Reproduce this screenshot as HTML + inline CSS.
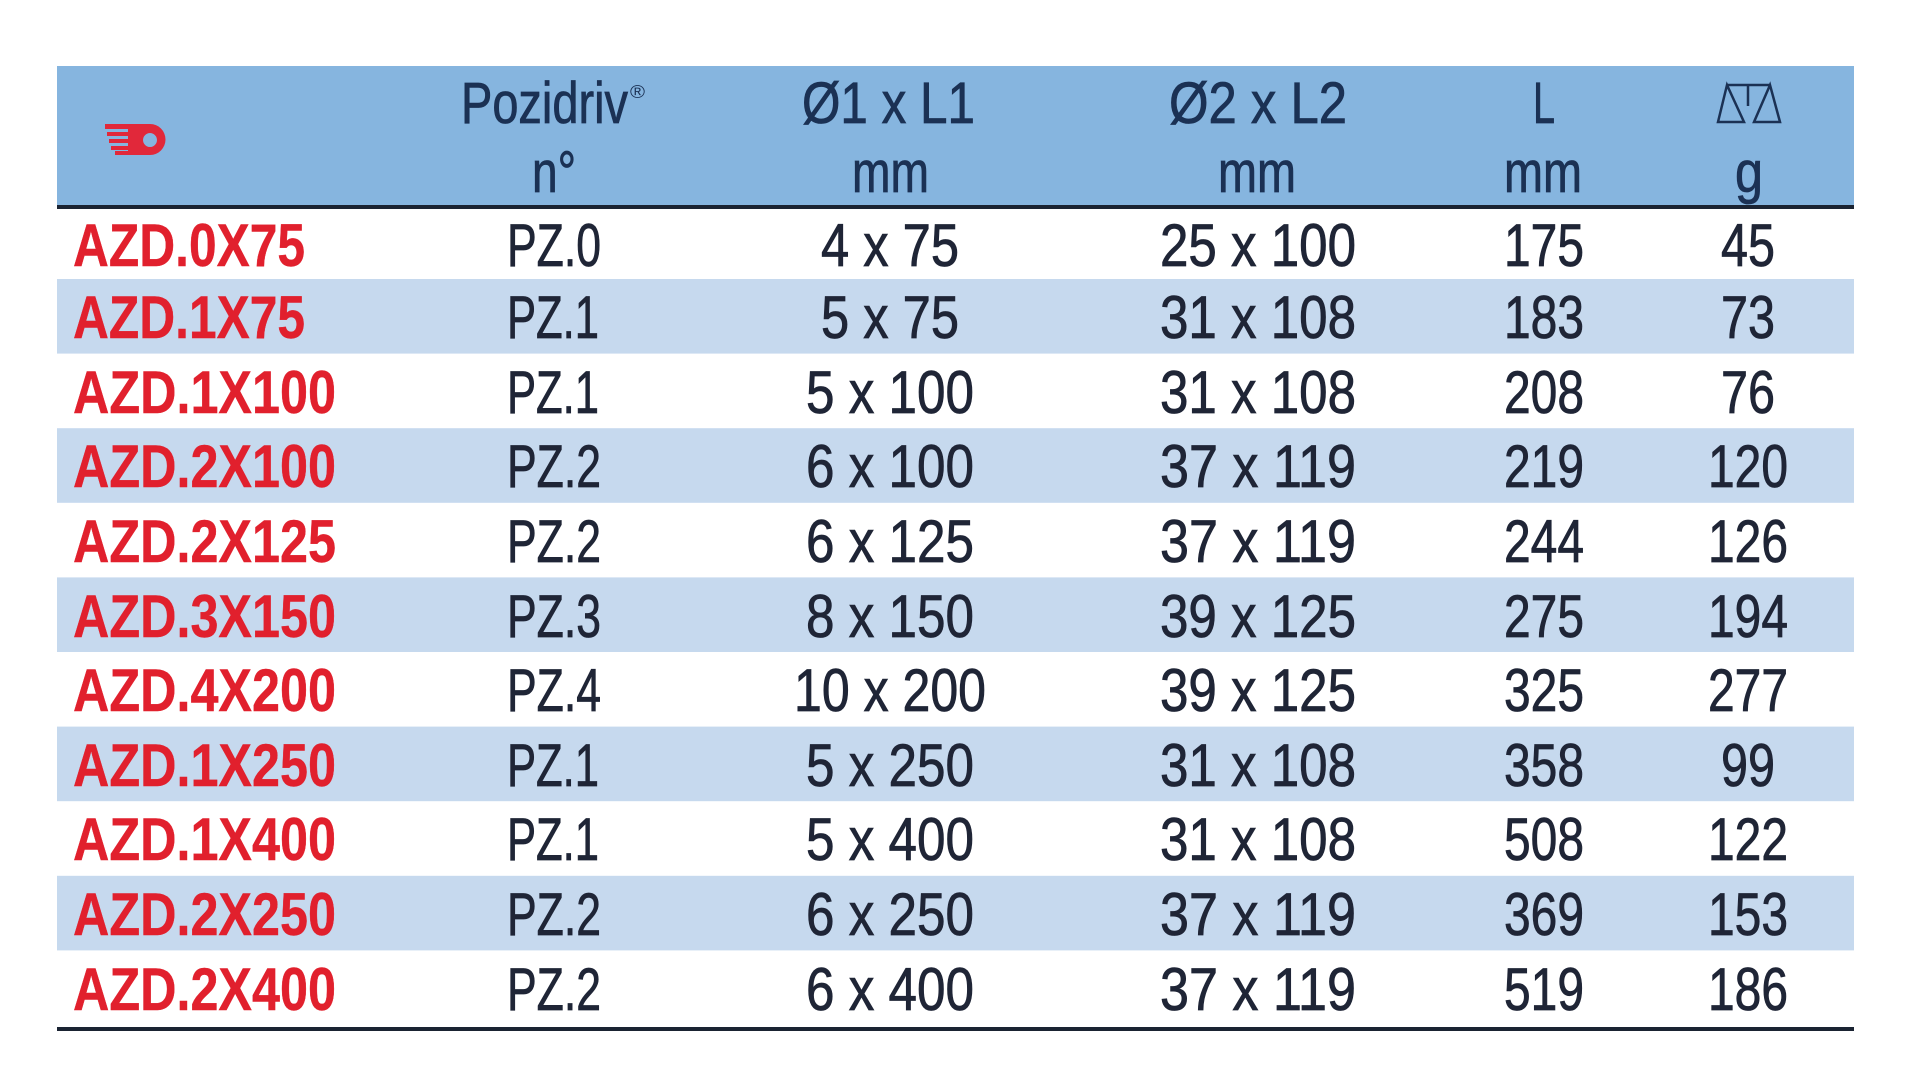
<!DOCTYPE html>
<html>
<head>
<meta charset="utf-8">
<style>
  html, body { margin: 0; padding: 0; background: #ffffff; }
  body { width: 1920px; height: 1090px; overflow: hidden; }
  svg { display: block; }
  .d { font-family: "Liberation Sans", "DejaVu Sans", sans-serif; font-size: 60px; fill: #1f2536; stroke: #1f2536; stroke-width: 0.8px; }
  .r { font-family: "Liberation Sans", "DejaVu Sans", sans-serif; font-size: 60px; font-weight: bold; fill: #e1202d; stroke: #e1202d; stroke-width: 0.4px; }
  .h { font-family: "Liberation Sans", "DejaVu Sans", sans-serif; font-size: 58px; fill: #1b3154; stroke: #1b3154; stroke-width: 0.8px; }
</style>
</head>
<body>
<svg width="1920" height="1090" viewBox="0 0 1920 1090" xmlns="http://www.w3.org/2000/svg">
  <rect x="0" y="0" width="1920" height="1090" fill="#ffffff"/>
  <!-- header -->
  <rect x="57" y="66" width="1797" height="140" fill="#86b5df"/>
  <rect x="57" y="205" width="1797" height="4" fill="#1a2332"/>
  <!-- stripes -->
  <rect x="57" y="279" width="1797" height="74.6" fill="#c6d9ee"/>
  <rect x="57" y="428.2" width="1797" height="74.6" fill="#c6d9ee"/>
  <rect x="57" y="577.4" width="1797" height="74.6" fill="#c6d9ee"/>
  <rect x="57" y="726.6" width="1797" height="74.6" fill="#c6d9ee"/>
  <rect x="57" y="875.8" width="1797" height="74.6" fill="#c6d9ee"/>
  <!-- bottom line -->
  <rect x="57" y="1027" width="1797" height="4" fill="#1a2332"/>

  <!-- header icon (red tool) -->
  <g fill="#e1283a">
    <path d="M128 124 H150 A15.5 15.5 0 0 1 150 155 H128 Z M150 133 A7 7 0 1 0 150.01 133 Z" fill-rule="evenodd"/>
    <rect x="105" y="124" width="28" height="5"/>
    <rect x="107" y="132" width="26" height="4"/>
    <rect x="109" y="139" width="24" height="4"/>
    <rect x="111" y="146" width="22" height="4"/>
    <rect x="115" y="151" width="18" height="4"/>
  </g>

  <!-- header texts -->
  <text class="h" x="461" y="123" textLength="167" lengthAdjust="spacingAndGlyphs">Pozidriv</text>
  <text class="h" x="630" y="98" style="font-size:18px;stroke-width:0" textLength="15" lengthAdjust="spacingAndGlyphs">®</text>
  <text class="h" x="532" y="192" textLength="44" lengthAdjust="spacingAndGlyphs">n°</text>

  <text class="h" x="802" y="123" textLength="173" lengthAdjust="spacingAndGlyphs">Ø1 x L1</text>
  <text class="h" x="852" y="192" textLength="77" lengthAdjust="spacingAndGlyphs">mm</text>

  <text class="h" x="1169" y="123" textLength="178" lengthAdjust="spacingAndGlyphs">Ø2 x L2</text>
  <text class="h" x="1218" y="192" textLength="78" lengthAdjust="spacingAndGlyphs">mm</text>

  <text class="h" x="1533" y="123" textLength="22" lengthAdjust="spacingAndGlyphs">L</text>
  <text class="h" x="1504" y="192" textLength="78" lengthAdjust="spacingAndGlyphs">mm</text>

  <!-- weight icon -->
  <g fill="none" stroke="#1b3154" stroke-width="2.5" stroke-linejoin="miter">
    <path d="M1718 122 L1727 85 L1744 122 Z"/>
    <path d="M1754 122 L1770 85 L1780 122 Z"/>
    <path d="M1727 85 H1770"/>
    <path d="M1748 85 V106"/>
  </g>
  <text class="h" x="1735" y="192" textLength="28" lengthAdjust="spacingAndGlyphs">g</text>

  <!-- row 1 -->
  <text class="r" x="73" y="266" textLength="232" lengthAdjust="spacingAndGlyphs">AZD.0X75</text>
  <text class="d" x="507" y="266" textLength="94" lengthAdjust="spacingAndGlyphs">PZ.0</text>
  <text class="d" x="821" y="266" textLength="138" lengthAdjust="spacingAndGlyphs">4 x 75</text>
  <text class="d" x="1160" y="266" textLength="196" lengthAdjust="spacingAndGlyphs">25 x 100</text>
  <text class="d" x="1504" y="266" textLength="80" lengthAdjust="spacingAndGlyphs">175</text>
  <text class="d" x="1721" y="266" textLength="54" lengthAdjust="spacingAndGlyphs">45</text>

  <!-- row 2 -->
  <text class="r" x="73" y="338" textLength="232" lengthAdjust="spacingAndGlyphs">AZD.1X75</text>
  <text class="d" x="507" y="338" textLength="92" lengthAdjust="spacingAndGlyphs">PZ.1</text>
  <text class="d" x="821" y="338" textLength="138" lengthAdjust="spacingAndGlyphs">5 x 75</text>
  <text class="d" x="1160" y="338" textLength="196" lengthAdjust="spacingAndGlyphs">31 x 108</text>
  <text class="d" x="1504" y="338" textLength="80" lengthAdjust="spacingAndGlyphs">183</text>
  <text class="d" x="1721" y="338" textLength="54" lengthAdjust="spacingAndGlyphs">73</text>

  <!-- row 3 -->
  <text class="r" x="73" y="413" textLength="263" lengthAdjust="spacingAndGlyphs">AZD.1X100</text>
  <text class="d" x="507" y="413" textLength="92" lengthAdjust="spacingAndGlyphs">PZ.1</text>
  <text class="d" x="806" y="413" textLength="168" lengthAdjust="spacingAndGlyphs">5 x 100</text>
  <text class="d" x="1160" y="413" textLength="196" lengthAdjust="spacingAndGlyphs">31 x 108</text>
  <text class="d" x="1504" y="413" textLength="80" lengthAdjust="spacingAndGlyphs">208</text>
  <text class="d" x="1721" y="413" textLength="54" lengthAdjust="spacingAndGlyphs">76</text>

  <!-- row 4 -->
  <text class="r" x="73" y="487" textLength="263" lengthAdjust="spacingAndGlyphs">AZD.2X100</text>
  <text class="d" x="507" y="487" textLength="94" lengthAdjust="spacingAndGlyphs">PZ.2</text>
  <text class="d" x="806" y="487" textLength="168" lengthAdjust="spacingAndGlyphs">6 x 100</text>
  <text class="d" x="1160" y="487" textLength="196" lengthAdjust="spacingAndGlyphs">37 x 119</text>
  <text class="d" x="1504" y="487" textLength="80" lengthAdjust="spacingAndGlyphs">219</text>
  <text class="d" x="1708" y="487" textLength="80" lengthAdjust="spacingAndGlyphs">120</text>

  <!-- row 5 -->
  <text class="r" x="73" y="562" textLength="263" lengthAdjust="spacingAndGlyphs">AZD.2X125</text>
  <text class="d" x="507" y="562" textLength="94" lengthAdjust="spacingAndGlyphs">PZ.2</text>
  <text class="d" x="806" y="562" textLength="168" lengthAdjust="spacingAndGlyphs">6 x 125</text>
  <text class="d" x="1160" y="562" textLength="196" lengthAdjust="spacingAndGlyphs">37 x 119</text>
  <text class="d" x="1504" y="562" textLength="80" lengthAdjust="spacingAndGlyphs">244</text>
  <text class="d" x="1708" y="562" textLength="80" lengthAdjust="spacingAndGlyphs">126</text>

  <!-- row 6 -->
  <text class="r" x="73" y="637" textLength="263" lengthAdjust="spacingAndGlyphs">AZD.3X150</text>
  <text class="d" x="507" y="637" textLength="94" lengthAdjust="spacingAndGlyphs">PZ.3</text>
  <text class="d" x="806" y="637" textLength="168" lengthAdjust="spacingAndGlyphs">8 x 150</text>
  <text class="d" x="1160" y="637" textLength="196" lengthAdjust="spacingAndGlyphs">39 x 125</text>
  <text class="d" x="1504" y="637" textLength="80" lengthAdjust="spacingAndGlyphs">275</text>
  <text class="d" x="1708" y="637" textLength="80" lengthAdjust="spacingAndGlyphs">194</text>

  <!-- row 7 -->
  <text class="r" x="73" y="711" textLength="263" lengthAdjust="spacingAndGlyphs">AZD.4X200</text>
  <text class="d" x="507" y="711" textLength="94" lengthAdjust="spacingAndGlyphs">PZ.4</text>
  <text class="d" x="794" y="711" textLength="192" lengthAdjust="spacingAndGlyphs">10 x 200</text>
  <text class="d" x="1160" y="711" textLength="196" lengthAdjust="spacingAndGlyphs">39 x 125</text>
  <text class="d" x="1504" y="711" textLength="80" lengthAdjust="spacingAndGlyphs">325</text>
  <text class="d" x="1708" y="711" textLength="80" lengthAdjust="spacingAndGlyphs">277</text>

  <!-- row 8 -->
  <text class="r" x="73" y="786" textLength="263" lengthAdjust="spacingAndGlyphs">AZD.1X250</text>
  <text class="d" x="507" y="786" textLength="92" lengthAdjust="spacingAndGlyphs">PZ.1</text>
  <text class="d" x="806" y="786" textLength="168" lengthAdjust="spacingAndGlyphs">5 x 250</text>
  <text class="d" x="1160" y="786" textLength="196" lengthAdjust="spacingAndGlyphs">31 x 108</text>
  <text class="d" x="1504" y="786" textLength="80" lengthAdjust="spacingAndGlyphs">358</text>
  <text class="d" x="1721" y="786" textLength="54" lengthAdjust="spacingAndGlyphs">99</text>

  <!-- row 9 -->
  <text class="r" x="73" y="860" textLength="263" lengthAdjust="spacingAndGlyphs">AZD.1X400</text>
  <text class="d" x="507" y="860" textLength="92" lengthAdjust="spacingAndGlyphs">PZ.1</text>
  <text class="d" x="806" y="860" textLength="168" lengthAdjust="spacingAndGlyphs">5 x 400</text>
  <text class="d" x="1160" y="860" textLength="196" lengthAdjust="spacingAndGlyphs">31 x 108</text>
  <text class="d" x="1504" y="860" textLength="80" lengthAdjust="spacingAndGlyphs">508</text>
  <text class="d" x="1708" y="860" textLength="80" lengthAdjust="spacingAndGlyphs">122</text>

  <!-- row 10 -->
  <text class="r" x="73" y="935" textLength="263" lengthAdjust="spacingAndGlyphs">AZD.2X250</text>
  <text class="d" x="507" y="935" textLength="94" lengthAdjust="spacingAndGlyphs">PZ.2</text>
  <text class="d" x="806" y="935" textLength="168" lengthAdjust="spacingAndGlyphs">6 x 250</text>
  <text class="d" x="1160" y="935" textLength="196" lengthAdjust="spacingAndGlyphs">37 x 119</text>
  <text class="d" x="1504" y="935" textLength="80" lengthAdjust="spacingAndGlyphs">369</text>
  <text class="d" x="1708" y="935" textLength="80" lengthAdjust="spacingAndGlyphs">153</text>

  <!-- row 11 -->
  <text class="r" x="73" y="1010" textLength="263" lengthAdjust="spacingAndGlyphs">AZD.2X400</text>
  <text class="d" x="507" y="1010" textLength="94" lengthAdjust="spacingAndGlyphs">PZ.2</text>
  <text class="d" x="806" y="1010" textLength="168" lengthAdjust="spacingAndGlyphs">6 x 400</text>
  <text class="d" x="1160" y="1010" textLength="196" lengthAdjust="spacingAndGlyphs">37 x 119</text>
  <text class="d" x="1504" y="1010" textLength="80" lengthAdjust="spacingAndGlyphs">519</text>
  <text class="d" x="1708" y="1010" textLength="80" lengthAdjust="spacingAndGlyphs">186</text>
</svg>
</body>
</html>
